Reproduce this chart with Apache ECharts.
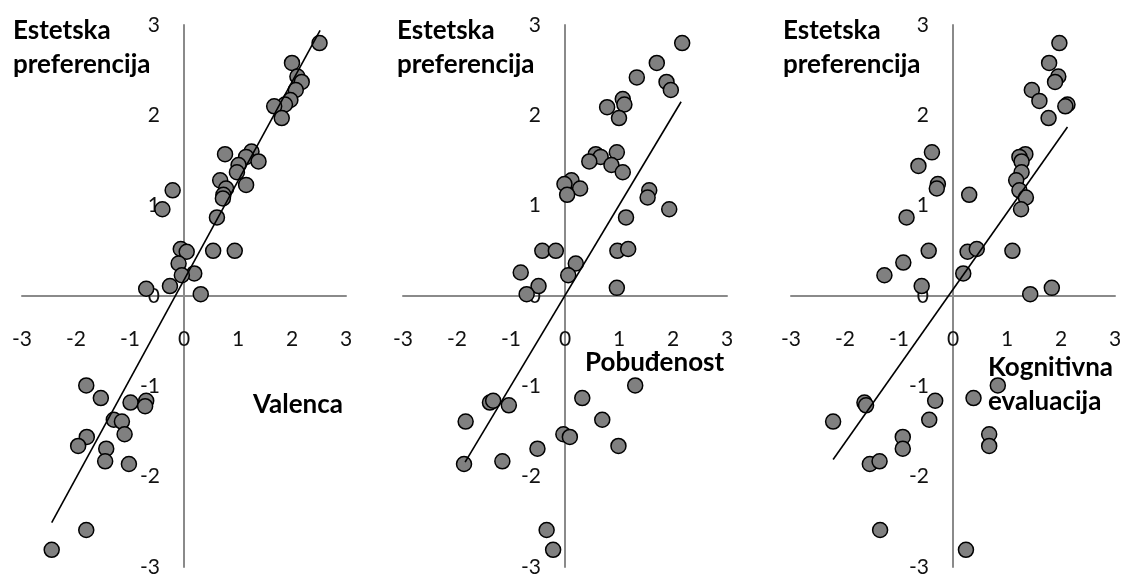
<!DOCTYPE html>
<html>
<head>
    <meta charset="utf-8" />
    <title>Estetska preferencija</title>
    <style type="text/css">
        * { margin: 0; padding: 0 }
        html, body { width: 100%; height: 100%; background: #fff; }
        #chart { width: 1124px; height: 578px; }
    </style>
</head>
<body>
    <div id="chart"></div>
    <script src="https://cdn.jsdelivr.net/npm/echarts@6/dist/echarts.min.js"></script>
    <script>
        // Valenca
        const valencaX = [2.51, 2.0, 2.10, 2.18, 2.07, 1.97, 1.87, 1.67, 1.81, 1.25, 1.15, 1.38, 0.76, 1.01, 0.98, 0.67,
            1.15, 0.78, 0.73, 0.72, -0.21, -0.40, 0.61, -0.06, 0.05, 0.54, 0.94, -0.10, 0.19, -0.04, -0.26, -0.70, 0.31,
            -1.81, -1.54, -0.99, -0.70, -0.72, -1.30, -1.15, -1.10, -1.80, -1.96, -1.44, -1.46, -1.02, -1.81, -2.45];
        const valencaY = [2.80, 2.58, 2.43, 2.37, 2.28, 2.17, 2.12, 2.10, 1.97, 1.60, 1.54, 1.49, 1.57, 1.45, 1.37, 1.28,
            1.23, 1.19, 1.12, 1.08, 1.17, 0.96, 0.87, 0.52, 0.49, 0.50, 0.50, 0.36, 0.25, 0.23, 0.11, 0.08, 0.02,
            -0.99, -1.13, -1.18, -1.16, -1.22, -1.37, -1.39, -1.53, -1.56, -1.66, -1.69, -1.83, -1.86, -2.59, -2.81];
        const valencaTrendX = [-2.45, 2.52];
        const valencaTrendY = [-2.51, 2.94];

        // Pobuđenost
        const pobudX = [2.17, 1.70, 1.33, 1.88, 1.96, 1.07, 1.10, 0.78, 1.00, 0.57, 0.66, 0.96, 0.45, 0.86, 1.07, 0.12,
            -0.01, 0.28, 0.04, 1.56, 1.53, 1.93, 1.13, -0.42, -0.17, 0.97, 1.17, 0.20, 0.06, -0.82, -0.49, -0.71, 0.96,
            1.30, 0.32, -1.39, -1.33, -1.04, 0.69, -1.84, -0.03, 0.09, 0.99, -0.51, -1.87, -1.16, -0.34, -0.22];
        const pobudY = [2.80, 2.58, 2.42, 2.37, 2.28, 2.18, 2.12, 2.09, 1.97, 1.57, 1.54, 1.59, 1.49, 1.45, 1.37, 1.28,
            1.24, 1.19, 1.12, 1.17, 1.09, 0.96, 0.87, 0.50, 0.50, 0.50, 0.52, 0.36, 0.23, 0.26, 0.11, 0.02, 0.09,
            -0.99, -1.13, -1.18, -1.16, -1.21, -1.37, -1.39, -1.53, -1.56, -1.66, -1.69, -1.86, -1.83, -2.59, -2.81];
        const pobudTrendX = [-1.85, 2.15];
        const pobudTrendY = [-1.84, 2.15];

        // Kognitivna evaluacija
        const kognX = [1.97, 1.78, 1.95, 1.89, 1.46, 1.60, 2.12, 2.08, 1.77, -0.39, 1.34, 1.23, 1.27, -0.64, 1.27, 1.17,
            -0.28, -0.30, 1.23, 0.30, 1.35, 1.26, -0.86, -0.45, 0.27, 0.44, 1.10, -0.92, -1.27, 0.19, -0.58, 1.83, 1.43,
            0.83, 0.38, -0.33, -1.64, -1.61, -0.44, -2.22, 0.67, -0.93, 0.67, -0.93, -1.54, -1.36, -1.35, 0.24];
        const kognY = [2.80, 2.58, 2.43, 2.37, 2.28, 2.16, 2.12, 2.10, 1.97, 1.59, 1.57, 1.54, 1.49, 1.44, 1.37, 1.28,
            1.24, 1.19, 1.17, 1.12, 1.09, 0.96, 0.87, 0.50, 0.49, 0.52, 0.50, 0.37, 0.23, 0.25, 0.11, 0.09, 0.02,
            -0.99, -1.13, -1.16, -1.18, -1.21, -1.37, -1.39, -1.53, -1.56, -1.66, -1.69, -1.86, -1.83, -2.59, -2.81];
        const kognTrendX = [-2.22, 2.12];
        const kognTrendY = [-1.81, 1.87];

        const tickLabels = ['-3', '-2', '-1', '0', '1', '2', '3'];

        const panels = [
            { xs: valencaX, ys: valencaY, tx: valencaTrendX, ty: valencaTrendY, left: 22 },
            { xs: pobudX, ys: pobudY, tx: pobudTrendX, ty: pobudTrendY, left: 403 },
            { xs: kognX, ys: kognY, tx: kognTrendX, ty: kognTrendY, left: 791 }
        ];
        const gridW = 324, gridH = 542;

        const font = 'Lato, "Open Sans", sans-serif';
        const zip = (a, b) => a.map((v, i) => [v, b[i]]);
        // axes cross at the centre (range is symmetric), so shift them there with offset
        const axisCommon = (margin, offset) => ({
            type: 'value',
            min: -3,
            max: 3,
            interval: 1,
            offset: offset,
            axisLine: { onZero: false, lineStyle: { color: '#8a8a8a', width: 2 } },
            axisTick: { show: false },
            splitLine: { show: false },
            axisLabel: {
                margin: margin,
                fontSize: 21,
                color: '#111',
                fontFamily: font,
                formatter: v => tickLabels[Math.round(v) + 3]
            }
        });

        const grid = [], xAxis = [], yAxis = [], series = [];
        panels.forEach((p, i) => {
            grid.push({ left: p.left, width: gridW, top: 25, height: gridH, outerBoundsMode: 'none', containLabel: false });
            xAxis.push(Object.assign(axisCommon(33, -gridH / 2), { gridIndex: i, position: 'bottom' }));
            yAxis.push(Object.assign(axisCommon(24, -gridW / 2), { gridIndex: i, position: 'left' }));
            series.push({
                type: 'scatter',
                xAxisIndex: i,
                yAxisIndex: i,
                symbolSize: 15,
                itemStyle: { color: '#808080', borderColor: '#000', borderWidth: 1.5, opacity: 1 },
                data: zip(p.xs, p.ys),
                z: 2
            });
            series.push({
                type: 'line',
                xAxisIndex: i,
                yAxisIndex: i,
                symbol: 'none',
                lineStyle: { color: '#000', width: 1.6 },
                data: zip(p.tx, p.ty),
                z: 3
            });
        });

        const label = (text, left, top) => ({
            type: 'text',
            left: left,
            top: top,
            style: { text: text, font: 'bold 26px ' + font, fill: '#000', lineHeight: 34 }
        });

        const chart = echarts.init(document.getElementById('chart'));
        chart.setOption({
            animation: false,
            grid: grid,
            xAxis: xAxis,
            yAxis: yAxis,
            series: series,
            graphic: [
                label('Estetska\npreferencija', 13, 14),
                label('Estetska\npreferencija', 397, 14),
                label('Estetska\npreferencija', 783, 14),
                label('Valenca', 253, 388),
                label('Pobuđenost', 585, 346),
                label('Kognitivna\nevaluacija', 988, 351)
            ]
        });
    </script>
</body>
</html>
